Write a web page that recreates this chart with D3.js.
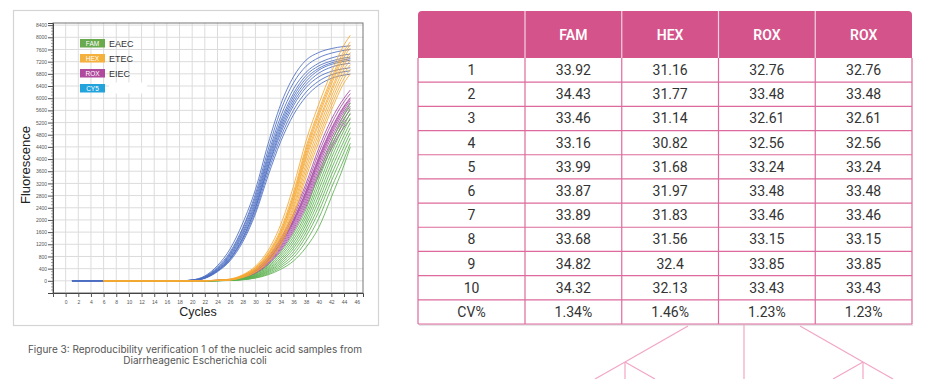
<!DOCTYPE html>
<html><head><meta charset="utf-8">
<script src="https://cdn.jsdelivr.net/npm/d3@7"></script>
<style>body{margin:0;background:#fff}svg{display:block}</style>
</head><body>
<svg id="c" width="926" height="379"></svg>
<script>
// ---------------- data ----------------
const X_TICKS = d3.range(-2, 47, 2);
const Y_TICKS = d3.range(0, 8401, 400);
const CYCLES_CY5 = [1, 18, 20, 22, 24, 26, 28, 30, 32, 34, 36, 38, 40, 42, 44, 45];
const CYCLES_OTHER = [6, 20, 22, 24, 26, 28, 30, 32, 34, 36, 38, 40, 42, 44, 45];

const CY5_CURVES = [
  [0,0,30,160,500,1050,1900,3000,4500,5800,6700,7250,7500,7630,7700,7720],
  [0,0,25,140,450,950,1750,2850,4300,5600,6500,7050,7330,7480,7570,7600],
  [0,0,20,130,420,900,1700,2750,4150,5400,6300,6850,7150,7320,7420,7450],
  [0,0,20,120,400,860,1620,2650,4050,5250,6150,6750,7060,7220,7320,7350],
  [0,0,18,115,380,820,1560,2560,3950,5150,6050,6650,6980,7160,7260,7300],
  [0,0,15,105,360,780,1500,2480,3850,5050,5950,6550,6920,7110,7210,7250],
  [0,0,15,100,340,740,1420,2380,3700,4850,5750,6350,6700,6880,6970,7000],
  [0,0,12,90,320,700,1350,2280,3580,4720,5600,6200,6560,6770,6870,6900],
  [0,0,10,80,300,660,1280,2200,3450,4580,5450,6050,6430,6650,6760,6790],
  [0,0,12,95,330,720,1400,2400,3750,4950,5850,6450,6820,7020,7120,7150]
];
const HEX_CURVES = [
  [0,0,5,20,60,200,480,1000,1850,3100,4600,5800,6850,7750,8070],
  [0,0,5,18,50,180,440,920,1700,2900,4400,5600,6650,7550,7850],
  [0,0,4,16,45,165,410,860,1600,2750,4200,5400,6450,7350,7650],
  [0,0,4,15,42,155,390,820,1530,2650,4100,5250,6300,7200,7500],
  [0,0,3,14,40,150,375,790,1480,2570,4000,5150,6200,7100,7400],
  [0,0,3,13,36,140,350,740,1400,2450,3850,5000,6050,6950,7250],
  [0,0,3,12,33,130,330,700,1330,2350,3700,4850,5900,6800,7100],
  [0,0,2,10,30,120,300,650,1250,2230,3550,4700,5750,6650,6950],
  [0,0,2,9,27,110,280,610,1180,2120,3400,4550,5600,6500,6800],
  [0,0,4,16,48,170,420,880,1620,2800,4300,5500,6550,7450,7750]
];
const ROX_CURVES = [
  [0,0,5,16,40,140,370,780,1400,2200,3200,4350,5300,6000,6270],
  [0,0,5,15,37,130,350,740,1340,2100,3080,4200,5150,5880,6150],
  [0,0,4,14,34,122,330,700,1280,2010,2960,4060,5000,5740,6020],
  [0,0,4,13,32,115,310,670,1230,1940,2860,3950,4880,5630,5920],
  [0,0,4,12,30,110,300,650,1200,1900,2800,3880,4800,5550,5850],
  [0,0,3,11,28,104,285,620,1150,1830,2710,3780,4700,5450,5740],
  [0,0,3,10,26,98,270,590,1100,1760,2620,3670,4580,5330,5620],
  [0,0,3,10,25,92,255,560,1050,1690,2530,3560,4450,5190,5480],
  [0,0,2,9,23,86,240,530,1000,1620,2440,3450,4330,5050,5300],
  [0,0,4,13,33,118,320,690,1260,1980,2920,4010,4950,5700,5980]
];
const FAM_CURVES = [
  [0,0,3,10,30,90,230,520,950,1550,2350,3500,4550,5450,5840],
  [0,0,3,9,27,82,210,475,880,1450,2220,3320,4380,5280,5680],
  [0,0,3,8,25,75,190,440,810,1350,2100,3150,4200,5100,5520],
  [0,0,2,8,22,68,175,400,740,1250,1970,2980,4030,4950,5360],
  [0,0,2,7,20,62,160,365,680,1150,1850,2800,3850,4780,5200],
  [0,0,2,6,18,56,145,330,620,1060,1720,2630,3670,4600,5030],
  [0,0,2,5,16,50,130,300,560,960,1590,2450,3480,4420,4870],
  [0,0,1,5,14,44,115,265,500,860,1460,2270,3280,4230,4700],
  [0,0,1,4,12,38,100,230,440,760,1300,2050,3050,4000,4520],
  [0,0,1,4,11,34,90,200,380,650,1100,1750,2750,3800,4400]
];
const LEGEND_CHANNELS = ["FAM", "HEX", "ROX", "CY5"];
const LEGEND_NAMES = ["EAEC", "ETEC", "EIEC", ""];

const TABLE_HEADERS = ["FAM", "HEX", "ROX", "ROX"];
const ROW_LABELS = ["1","2","3","4","5","6","7","8","9","10","CV%"];
const FAM_CT = ["33.92","34.43","33.46","33.16","33.99","33.87","33.89","33.68","34.82","34.32","1.34%"];
const HEX_CT = ["31.16","31.77","31.14","30.82","31.68","31.97","31.83","31.56","32.4","32.13","1.46%"];
const ROX_CT = ["32.76","33.48","32.61","32.56","33.24","33.48","33.46","33.15","33.85","33.43","1.23%"];
const ROX2_CT = ["32.76","33.48","32.61","32.56","33.24","33.48","33.46","33.15","33.85","33.43","1.23%"];

// ---------------- chart ----------------
const svg = d3.select("#c");
svg.append("rect").attr("width", 926).attr("height", 379).attr("fill", "#fff");

const COLORS = {FAM: "#5cb24f", HEX: "#f6a833", ROX: "#a64aa3", CY5: "#4c6fc2"};
const LEG_COLORS = {FAM: "#6aaa4f", HEX: "#f5b13d", ROX: "#b04a9d", CY5: "#22a3dc"};

// outer box
svg.append("rect").attr("x", 13.5).attr("y", 10.5).attr("width", 365).attr("height", 315)
  .attr("fill", "none").attr("stroke", "#d4d4d4").attr("stroke-width", 1.2);

const x = d3.scaleLinear().domain([-2, 47]).range([53, 363]);
const y = d3.scaleLinear().domain([-400, 8470]).range([293, 23]);

const g = svg.append("g");
// grid
g.selectAll(".vg").data(X_TICKS.slice(1)).join("line")
  .attr("x1", d => x(d)).attr("x2", d => x(d)).attr("y1", y(8470)).attr("y2", y(-400))
  .attr("stroke", "#dcdcdc").attr("stroke-width", 1);
g.selectAll(".hg").data(d3.range(-400, 8401, 400)).join("line")
  .attr("x1", x(-2)).attr("x2", x(47)).attr("y1", d => y(d)).attr("y2", d => y(d))
  .attr("stroke", "#dcdcdc").attr("stroke-width", 1);

// plot frame (top/right)
g.append("rect").attr("x", x(-2)).attr("y", y(8470)).attr("width", x(47) - x(-2)).attr("height", y(-400) - y(8470))
  .attr("fill", "none").attr("stroke", "#777").attr("stroke-width", 1);

// axes
const yAxis = d3.axisLeft(y).tickValues(Y_TICKS).tickSize(5).tickPadding(1).tickFormat(d => d);
const ya = g.append("g").attr("transform", `translate(${x(-2)},0)`).call(yAxis);
ya.select(".domain").attr("stroke", "#444");
ya.selectAll(".tick line").attr("stroke", "#555");
ya.selectAll("text").attr("font-size", 5).attr("fill", "#555").attr("font-family", "Liberation Sans, Arial, sans-serif");
const minor = d3.range(-300, 8470, 100).filter(d => d % 400 !== 0);
g.selectAll(".ymin").data(minor).join("line")
  .attr("x1", x(-2) - 2).attr("x2", x(-2)).attr("y1", d => y(d)).attr("y2", d => y(d))
  .attr("stroke", "#666").attr("stroke-width", 0.6);

const xAxis = d3.axisBottom(x).tickValues(X_TICKS).tickSize(4).tickPadding(3).tickFormat(d => d < 0 ? "" : d);
const xa = g.append("g").attr("transform", `translate(0,${y(-400)})`).call(xAxis);
xa.select(".domain").attr("stroke", "#444");
xa.selectAll(".tick line").attr("stroke", "#555");
xa.selectAll("text").attr("font-size", 5).attr("fill", "#555").attr("font-family", "Liberation Sans, Arial, sans-serif");

// curves
const line = d3.line().x(d => x(d[0])).y(d => y(d[1])).curve(d3.curveMonotoneX);
function drawSet(curves, cycles, color, opacity) {
  g.append("g").selectAll("path").data(curves).join("path")
    .attr("d", vals => line(vals.map((v, i) => [cycles[i], v])))
    .attr("fill", "none").attr("stroke", color).attr("stroke-width", 1).attr("stroke-opacity", opacity);
}
drawSet(CY5_CURVES, CYCLES_CY5, COLORS.CY5, 0.85);
drawSet(ROX_CURVES, CYCLES_OTHER, COLORS.ROX, 0.85);
drawSet(FAM_CURVES, CYCLES_OTHER, COLORS.FAM, 0.85);
drawSet(HEX_CURVES, CYCLES_OTHER, COLORS.HEX, 0.85);

// legend
const leg = g.append("g");
LEGEND_CHANNELS.forEach((ch, i) => {
  const yy = 39 + i * 15;
  leg.append("rect").attr("x", 80).attr("y", yy).attr("width", 25).attr("height", 8.5).attr("fill", LEG_COLORS[ch]);
  leg.append("text").attr("x", 92.5).attr("y", yy + 6.8).attr("text-anchor", "middle")
    .attr("font-size", 6.5).attr("fill", "#fff").attr("font-family", "Liberation Sans, Arial, sans-serif").text(ch);
  if (LEGEND_NAMES[i]) {
    leg.append("text").attr("x", 109).attr("y", yy + 7.5).attr("font-size", 9).attr("fill", "#333")
      .attr("font-family", "Liberation Sans, Arial, sans-serif").text(LEGEND_NAMES[i]);
  } else {
    leg.append("rect").attr("x", 109).attr("y", yy - 1.5).attr("width", 38).attr("height", 11).attr("fill", "#fff");
  }
});

// axis titles
svg.append("text").attr("x", 198).attr("y", 316).attr("text-anchor", "middle")
  .attr("font-size", 12.5).attr("fill", "#222").attr("font-family", "Liberation Sans, Arial, sans-serif").text("Cycles");
svg.append("text").attr("transform", "translate(30,165) rotate(-90)").attr("text-anchor", "middle")
  .attr("font-size", 13).attr("fill", "#222").attr("font-family", "Liberation Sans, Arial, sans-serif").text("Fluorescence");

// caption
const cap = svg.append("text").attr("text-anchor", "middle").attr("font-size", 10).attr("fill", "#555")
  .attr("font-family", "Inter, Roboto, sans-serif");
cap.append("tspan").attr("x", 195).attr("y", 353).text("Figure 3: Reproducibility verification 1 of the nucleic acid samples from");
cap.append("tspan").attr("x", 195).attr("y", 364).text("Diarrheagenic Escherichia coli");

// ---------------- table ----------------
const T = {left: 418, firstRight: 525, right: 912, top: 11, headBottom: 58, bottom: 324};
const colScale = d3.scaleBand().domain(d3.range(TABLE_HEADERS.length)).range([T.firstRight, T.right]);
const rowScale = d3.scaleBand().domain(ROW_LABELS).range([T.headBottom, T.bottom]);
const cols = [FAM_CT, HEX_CT, ROX_CT, ROX2_CT];
const PINK = "#d4538a";
const LINE = "#de6a9d";
const tg = svg.append("g").attr("font-family", "Roboto, Inter, sans-serif");

// shadow
tg.append("rect").attr("x", T.left + 1).attr("y", T.bottom).attr("width", T.right - T.left).attr("height", 2)
  .attr("fill", "#e6e6e6");
tg.append("rect").attr("x", T.left).attr("y", T.headBottom).attr("width", T.right - T.left).attr("height", T.bottom - T.headBottom)
  .attr("fill", "#fff");
// header
const r = 4;
tg.append("path").attr("d", `M${T.left},${T.headBottom} V${T.top + r} Q${T.left},${T.top} ${T.left + r},${T.top} H${T.right - r} Q${T.right},${T.top} ${T.right},${T.top + r} V${T.headBottom} Z`)
  .attr("fill", PINK);
tg.selectAll(".hsep").data(colScale.domain()).join("line")
  .attr("x1", d => colScale(d)).attr("x2", d => colScale(d)).attr("y1", T.top).attr("y2", T.headBottom)
  .attr("stroke", "#f3d3e1").attr("stroke-width", 1.2);
tg.selectAll(".htxt").data(TABLE_HEADERS).join("text")
  .attr("x", (d, i) => colScale(i) + colScale.bandwidth() / 2).attr("y", (T.top + T.headBottom) / 2 + 5)
  .attr("text-anchor", "middle").attr("font-size", 14).attr("font-weight", 600).attr("fill", "#fff").text(d => d);

// body lines
tg.selectAll(".hl").data(ROW_LABELS).join("line")
  .attr("x1", T.left).attr("x2", T.right)
  .attr("y1", d => rowScale(d) + rowScale.bandwidth()).attr("y2", d => rowScale(d) + rowScale.bandwidth())
  .attr("stroke", LINE).attr("stroke-width", 1.2);
const vxs = [T.left, ...colScale.domain().map(d => colScale(d)), T.right];
tg.selectAll(".vl").data(vxs).join("line")
  .attr("x1", d => d).attr("x2", d => d).attr("y1", T.headBottom).attr("y2", T.bottom)
  .attr("stroke", LINE).attr("stroke-width", 1.2);

// body text
tg.selectAll(".rl").data(ROW_LABELS).join("text")
  .attr("x", (T.left + T.firstRight) / 2).attr("y", d => rowScale(d) + rowScale.bandwidth() / 2 + 5)
  .attr("text-anchor", "middle").attr("font-size", 14).attr("fill", "#333").text(d => d);
cols.forEach((vals, ci) => {
  tg.append("g").selectAll("text").data(vals).join("text")
    .attr("x", colScale(ci) + colScale.bandwidth() / 2)
    .attr("y", (d, i) => rowScale(ROW_LABELS[i]) + rowScale.bandwidth() / 2 + 5)
    .attr("text-anchor", "middle").attr("font-size", 14).attr("fill", "#333").text(d => d);
});

// decorative tree lines below table
const TREE = "#f1a6c5";
const segs = [
  [688, 326, 625, 362], [625, 362, 625, 379], [625, 362, 595, 379], [625, 362, 655, 379],
  [744, 325, 744, 379],
  [800, 326, 863, 362], [863, 362, 863, 379], [863, 362, 833, 379], [863, 362, 893, 379]
];
svg.append("g").selectAll("line").data(segs).join("line")
  .attr("x1", d => d[0]).attr("y1", d => d[1]).attr("x2", d => d[2]).attr("y2", d => d[3])
  .attr("stroke", TREE).attr("stroke-width", 1.2);
</script>
</body></html>
